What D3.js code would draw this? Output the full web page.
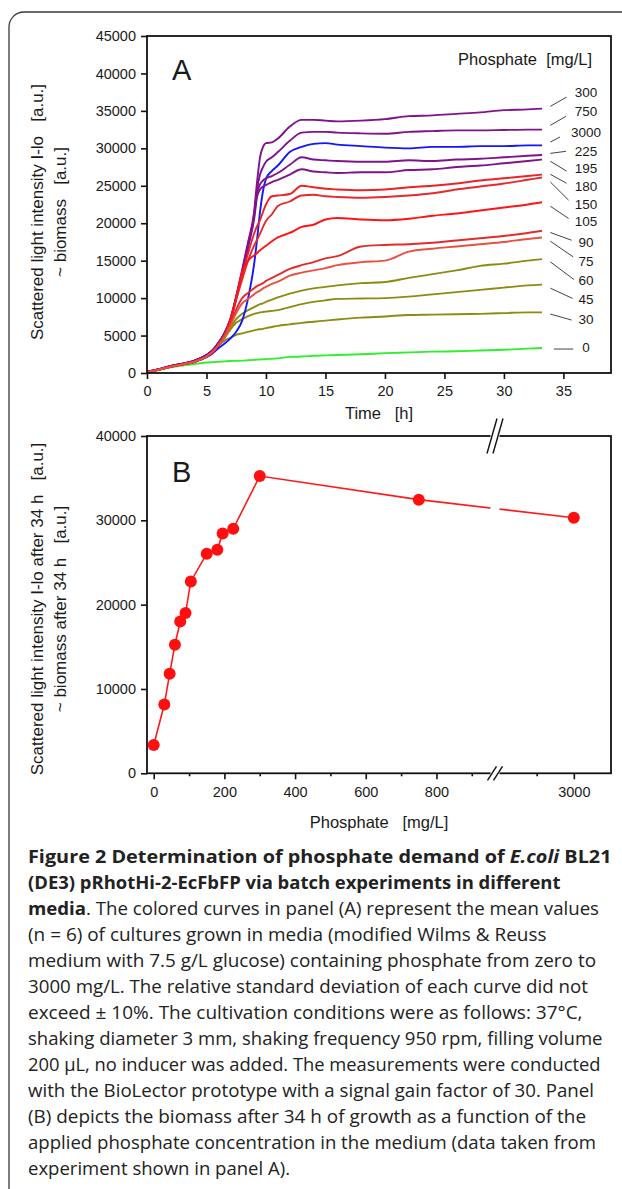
<!DOCTYPE html>
<html>
<head>
<meta charset="utf-8">
<script src="https://cdn.jsdelivr.net/npm/d3@7"></script>
<style>
  body { margin: 0; background: #fff; }
  svg text { font-family: "Liberation Sans", Arial, sans-serif; fill: #1a1a1a; }
  svg .cap text { font-family: "Open Sans", sans-serif; fill: #222; }
</style>
</head>
<body>
<svg id="fig" width="622" height="1189"></svg>
<script>
//begin: data panel A
const times = [0,1,2,3,4,5,5.5,6,6.5,7,7.5,8,8.5,9,9.25,9.5,9.75,10,10.5,11,12,13,14,15,16,18,20,22,24,26,28,30,32,33.2];
const phosphateLevels = ["300","750","3000","225","195","180","150","105","90","75","60","45","30","0"];
const c300  = [150,500,950,1250,1650,2400,3000,4000,5300,7200,10300,13800,17500,21500,25500,28800,30200,30700,30800,31300,32900,33800,33800,33700,33600,33700,33900,34300,34400,34600,34800,35100,35200,35300];
const c750  = [150,500,950,1250,1650,2400,3000,4000,5300,7100,10200,13600,17200,21000,24500,26500,27500,28200,28800,29500,31000,32100,32200,32200,32100,32000,31950,32200,32300,32400,32400,32450,32500,32500];
const c3000 = [100,450,850,1150,1500,2100,2600,3300,3900,4600,5500,7000,10000,14500,17800,21500,24300,25900,27000,27700,29500,30200,30600,30700,30500,30300,30100,30000,30200,30200,30300,30300,30400,30400];
const c225  = [150,500,950,1250,1650,2400,3000,4000,5200,7000,10000,13400,17000,21000,24000,25200,25700,26000,26300,26700,27800,28800,28500,28400,28300,28200,28200,28400,28300,28500,28600,28800,29000,29100];
const c195  = [150,500,950,1250,1650,2400,3000,4000,5200,7000,9900,13200,16800,20500,23500,24500,24900,25100,25500,25800,26500,27200,26900,26800,26700,26800,26800,27100,27200,27500,27700,28000,28300,28500];
const c180  = [100,450,850,1150,1500,2200,2800,3700,5000,7000,10000,13000,16000,18600,19600,20400,21500,22500,23600,23700,23900,25000,24800,24600,24500,24400,24500,24800,25000,25300,25700,26000,26300,26500];
const c150  = [100,450,850,1150,1500,2200,2800,3700,5000,6900,9800,12500,15000,17000,17800,18600,19500,20300,21200,22300,22900,23700,23800,23600,23500,23400,23500,23700,24000,24500,24900,25300,25800,26100];
const c105  = [100,450,850,1150,1500,2200,2800,3700,5000,7000,10000,13500,15000,15700,16000,16400,16700,17000,17600,18100,18700,19500,19800,20500,20700,20500,20400,20600,21000,21300,21700,22100,22500,22800];
const c90   = [100,450,850,1150,1500,2200,2800,3700,4900,6500,8500,10000,10700,11300,11600,11800,12000,12300,12700,13100,13900,14400,14800,15300,15600,16900,17100,17200,17400,17700,18000,18300,18700,19000];
const c75   = [100,450,850,1150,1500,2200,2800,3700,4800,6300,8000,9300,9900,10500,10800,11000,11300,11500,11900,12200,13000,13400,13700,14000,14400,14800,15000,16200,16600,16900,17200,17500,17900,18100];
const c60   = [100,450,850,1150,1500,2200,2800,3700,4800,6000,7200,7900,8400,8800,9000,9200,9300,9500,9800,10100,10600,11000,11300,11500,11700,12000,12150,12700,13200,13700,14300,14600,15000,15200];
const c45   = [100,450,850,1150,1500,2200,2800,3700,4600,5800,6700,7200,7600,7900,8000,8100,8150,8200,8300,8400,8800,9200,9500,9700,9900,9950,10000,10200,10500,10800,11100,11400,11700,11800];
const c30   = [100,450,850,1150,1500,2200,2800,3600,4300,4700,5100,5300,5500,5700,5800,5850,5900,6000,6150,6300,6500,6700,6850,7000,7150,7400,7550,7750,7800,7850,7900,8000,8100,8100];
const c0    = [0,400,750,1000,1200,1400,1450,1500,1550,1600,1620,1650,1700,1750,1780,1800,1830,1850,1900,1950,2150,2200,2300,2350,2400,2500,2650,2750,2850,2900,3000,3100,3250,3350];
const timeTicks = [0,5,10,15,20,25,30,35];
const signalTicksA = [0,5000,10000,15000,20000,25000,30000,35000,40000,45000];
// label anchors of the right-hand legend, in data units
const labelValues = [37500,34970,32130,29640,27370,24840,22530,20170,17370,14840,12310,9830,7160,3370];
const leaderFrom  = [35600,33070,30840,29330,28270,26530,25510,22270,18760,17600,14840,11330,7870,3200];
const leaderTo    = [36840,34270,31510,29600,26960,25330,23070,20630,17730,15510,12490,9960,7070,3200];
const leaderToT   = [35.27,35.21,34.71,35.21,35.27,35.27,35.44,35.44,35.69,35.82,35.88,35.77,35.69,35.82];
//end: data panel A

//begin: data panel B
const phosphateB = [0,30,45,60,75,90,105,150,180,195,225,300,750,3000];
const biomassB   = [3350,8150,11800,15250,18000,19000,22750,26050,26500,28450,29000,35250,32450,30300];
const phosTicksMajor = [0,200,400,600,800];
const phosTicksMinor = [100,300,500,700,900];
const phosTicksHigh = [3000];
const phosTicksHighMinor = [2900];
const signalTicksB = [0,10000,20000,30000,40000];
//end: data panel B

//begin: caption
const captionLines = [
  [["Figure 2 Determination of phosphate demand of ","b"],["E.coli","bi"],[" BL21","b"]],
  [["(DE3) pRhotHi-2-EcFbFP via batch experiments in different","b"]],
  [["media","b"],[". The colored curves in panel (A) represent the mean values","n"]],
  [["(n = 6) of cultures grown in media (modified Wilms & Reuss","n"]],
  [["medium with 7.5 g/L glucose) containing phosphate from zero to","n"]],
  [["3000 mg/L. The relative standard deviation of each curve did not","n"]],
  [["exceed \u00b1 10%. The cultivation conditions were as follows: 37\u00b0C,","n"]],
  [["shaking diameter 3 mm, shaking frequency 950 rpm, filling volume","n"]],
  [["200 \u00b5L, no inducer was added. The measurements were conducted","n"]],
  [["with the BioLector prototype with a signal gain factor of 30. Panel","n"]],
  [["(B) depicts the biomass after 34 h of growth as a function of the","n"]],
  [["applied phosphate concentration in the medium (data taken from","n"]],
  [["experiment shown in panel A).","n"]]
];
//end: caption

//begin: style conf.
const curveColor = {
  "300":"#80138c","750":"#80138c","225":"#80138c","195":"#80138c",
  "3000":"#1515ff",
  "180":"#ee2224","150":"#e6292c","105":"#ff1414","90":"#e42a2a","75":"#ea5040",
  "60":"#8c8c12","45":"#8c8c12","30":"#8c8c12",
  "0":"#2ef02e"
};
const drawOrder = ["0","30","45","60","3000","300","750","225","195","180","150","105","90","75"];
const capLineEnd = [611.5,560.5,599,546.5,596,588,582.5,602.5,600.5,594,586,596,290];
const FONT = "Liberation Sans, Arial, sans-serif";
//end: style conf.

const series = {
  "300":c300,"750":c750,"3000":c3000,"225":c225,"195":c195,"180":c180,"150":c150,
  "105":c105,"90":c90,"75":c75,"60":c60,"45":c45,"30":c30,"0":c0
};

const svg = d3.select("#fig");

// outer rounded frame (only top-left visible)
svg.append("path")
  .attr("d", "M9,1200 L9,27 A15,15 0 0 1 24,12 L640,12")
  .attr("fill", "none").attr("stroke", "#3a3a3a").attr("stroke-width", 1.3);

function styleAxis(g, fs) {
  g.attr("font-size", fs).attr("font-family", FONT);
  g.select(".domain").remove();
  g.selectAll(".tick line").attr("stroke", "#111").attr("stroke-width", 1.6);
  g.selectAll(".tick text").attr("fill", "#1a1a1a");
}
const fmt = d3.format("d");

//begin: panel A
const A = { l: 147, t: 36, r: 611, b: 373 };
const xA = d3.scaleLinear().domain([0, 39]).range([A.l, A.r]);
const yA = d3.scaleLinear().domain([0, 45000]).range([A.b, A.t]);
const gA = svg.append("g");

gA.append("g").attr("transform", "translate(0," + A.b + ")")
  .call(d3.axisBottom(xA).tickValues(timeTicks).tickFormat(fmt).tickSize(6).tickPadding(7))
  .call(g => styleAxis(g, 14.5));
gA.append("g").attr("transform", "translate(" + A.l + ",0)")
  .call(d3.axisLeft(yA).tickValues(signalTicksA).tickFormat(fmt).tickSize(6).tickPadding(5))
  .call(g => styleAxis(g, 14.5));

const lineA = d3.line()
  .x((d, i) => xA(times[i]))
  .y(d => yA(d))
  .curve(d3.curveMonotoneX);

gA.append("g").selectAll("path")
  .data(drawOrder)
  .enter().append("path")
  .attr("d", k => lineA(series[k]))
  .attr("fill", "none")
  .attr("stroke", k => curveColor[k])
  .attr("stroke-width", 1.9)
  .attr("stroke-linejoin", "round");

gA.append("rect")
  .attr("x", A.l).attr("y", A.t).attr("width", A.r - A.l).attr("height", A.b - A.t)
  .attr("fill", "none").attr("stroke", "#111").attr("stroke-width", 1.8);

// legend on the right
const legend = gA.append("g");
legend.selectAll("line")
  .data(phosphateLevels)
  .enter().append("line")
  .attr("x1", d => xA(d === "0" ? 34.2 : 33.9))
  .attr("y1", (d, i) => yA(leaderFrom[i]))
  .attr("x2", (d, i) => xA(leaderToT[i]))
  .attr("y2", (d, i) => yA(leaderTo[i]))
  .attr("stroke", "#444").attr("stroke-width", 1);
legend.selectAll("text")
  .data(phosphateLevels)
  .enter().append("text")
  .attr("x", xA(36.9))
  .attr("y", (d, i) => yA(labelValues[i]))
  .attr("text-anchor", "middle")
  .attr("dominant-baseline", "central")
  .attr("font-size", 13.5)
  .text(d => d);

gA.append("text").attr("x", 592).attr("y", 65).attr("text-anchor", "end")
  .attr("font-size", 16.5).style("white-space", "pre").text("Phosphate  [mg/L]");
gA.append("text").attr("x", 172).attr("y", 80).attr("font-size", 29).text("A");

gA.append("text").attr("transform", "translate(37,212) rotate(-90)")
  .attr("text-anchor", "middle").attr("dominant-baseline", "central")
  .attr("font-size", 17).style("white-space", "pre")
  .text("Scattered light intensity I-lo   [a.u.]");
gA.append("text").attr("transform", "translate(60,212) rotate(-90)")
  .attr("text-anchor", "middle").attr("dominant-baseline", "central")
  .attr("font-size", 17).style("white-space", "pre")
  .text("~ biomass   [a.u.]");
gA.append("text").attr("x", 379).attr("y", 413)
  .attr("text-anchor", "middle").attr("dominant-baseline", "central")
  .attr("font-size", 16.5).style("white-space", "pre")
  .text("Time   [h]");
//end: panel A

//begin: panel B
const B = { l: 147, t: 436, r: 611, b: 773.3, brk: 495 };
const xB1 = d3.scaleLinear().domain([-19, 960]).range([B.l, 493]);
const xB2 = d3.scaleLinear().domain([2800, 3100]).range([499.5, B.r]);
const xB = v => (v < 1000 ? xB1(v) : xB2(v));
const yB = d3.scaleLinear().domain([0, 40000]).range([B.b, B.t]);
const gB = svg.append("g");

gB.append("g").attr("transform", "translate(0," + B.b + ")")
  .call(d3.axisBottom(xB1).tickValues(phosTicksMajor).tickFormat(fmt).tickSize(6).tickPadding(7))
  .call(g => styleAxis(g, 14.5));
gB.append("g").attr("transform", "translate(0," + B.b + ")")
  .call(d3.axisBottom(xB1).tickValues(phosTicksMinor).tickSize(3).tickFormat(""))
  .call(g => styleAxis(g, 14.5));
gB.append("g").attr("transform", "translate(0," + B.b + ")")
  .call(d3.axisBottom(xB2).tickValues(phosTicksHigh).tickFormat(fmt).tickSize(6).tickPadding(7))
  .call(g => styleAxis(g, 14.5));
gB.append("g").attr("transform", "translate(0," + B.b + ")")
  .call(d3.axisBottom(xB2).tickValues(phosTicksHighMinor).tickSize(3).tickFormat(""))
  .call(g => styleAxis(g, 14.5));
gB.append("g").attr("transform", "translate(" + B.l + ",0)")
  .call(d3.axisLeft(yB).tickValues(signalTicksB).tickFormat(fmt).tickSize(6).tickPadding(5))
  .call(g => styleAxis(g, 14.5));

gB.append("rect")
  .attr("x", B.l).attr("y", B.t).attr("width", B.r - B.l).attr("height", B.b - B.t)
  .attr("fill", "none").attr("stroke", "#111").attr("stroke-width", 1.8);

const ptsB = phosphateB.map((p, i) => [p, biomassB[i]]);
gB.append("path")
  .attr("d", d3.line().x(d => xB(d[0])).y(d => yB(d[1]))(ptsB))
  .attr("fill", "none").attr("stroke", "#ff1a1a").attr("stroke-width", 1.6);

// axis break: white gap and double slashes
gB.append("rect").attr("x", B.brk - 4.5).attr("y", B.t - 6).attr("width", 9).attr("height", B.b - B.t + 12)
  .attr("fill", "#fff");
[-3, 3].forEach(o => {
  gB.append("line")
    .attr("x1", B.brk + o - 5).attr("y1", B.t + 17.5)
    .attr("x2", B.brk + o + 5).attr("y2", B.t - 17.5)
    .attr("stroke", "#111").attr("stroke-width", 1.4);
  gB.append("line")
    .attr("x1", B.brk + o - 4.5).attr("y1", B.b + 7)
    .attr("x2", B.brk + o + 4.5).attr("y2", B.b - 7)
    .attr("stroke", "#111").attr("stroke-width", 1.4);
});

gB.append("g").selectAll("circle")
  .data(ptsB)
  .enter().append("circle")
  .attr("cx", d => xB(d[0]))
  .attr("cy", d => yB(d[1]))
  .attr("r", 6)
  .attr("fill", "#ff1010");

gB.append("text").attr("x", 172).attr("y", 482).attr("font-size", 29).text("B");
gB.append("text").attr("transform", "translate(37,609) rotate(-90)")
  .attr("text-anchor", "middle").attr("dominant-baseline", "central")
  .attr("font-size", 17).style("white-space", "pre")
  .text("Scattered light intensity I-lo after 34 h   [a.u.]");
gB.append("text").attr("transform", "translate(60,609) rotate(-90)")
  .attr("text-anchor", "middle").attr("dominant-baseline", "central")
  .attr("font-size", 17).style("white-space", "pre")
  .text("~ biomass after 34 h   [a.u.]");
gB.append("text").attr("x", 379).attr("y", 822)
  .attr("text-anchor", "middle").attr("dominant-baseline", "central")
  .attr("font-size", 16.5).style("white-space", "pre")
  .text("Phosphate   [mg/L]");
//end: panel B

//begin: caption
const capX = 28, capY0 = 862.5, capLH = 26;
const cap = svg.append("g").classed("cap", true);
captionLines.forEach((segs, i) => {
  const t = cap.append("text")
    .attr("x", capX)
    .attr("y", capY0 + i * capLH)
    .attr("font-size", 18)
    .attr("textLength", capLineEnd[i] - capX)
    .attr("lengthAdjust", "spacingAndGlyphs")
    .style("white-space", "pre");
  segs.forEach(s => {
    t.append("tspan")
      .attr("font-weight", s[1] === "n" ? 400 : 700)
      .attr("font-style", s[1] === "bi" ? "italic" : "normal")
      .text(s[0]);
  });
});
//end: caption
</script>
</body>
</html>
